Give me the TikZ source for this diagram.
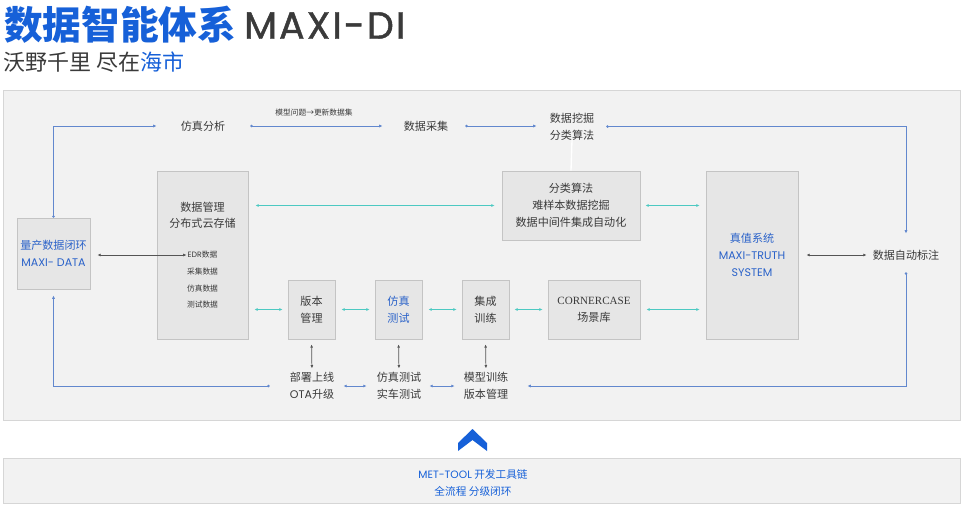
\documentclass[tikz,border=0pt]{standalone}
\usepackage{fontspec}
\setmainfont{Noto Sans CJK SC}
\newfontfamily\pop{Poppins}
\newfontfamily\popt{Poppins}[LetterSpace=5.5, FakeBold=1.2]
\newfontfamily\serifcc{Liberation Serif}
\usetikzlibrary{arrows.meta}
\definecolor{tblue}{HTML}{1660D8}
\definecolor{bxblue}{HTML}{2A62C9}
\definecolor{lblue}{HTML}{6288CE}
\definecolor{lcyan}{HTML}{4CC9C2}
\definecolor{panel}{HTML}{F2F2F2}
\definecolor{panelb}{HTML}{D6D6D6}
\definecolor{boxf}{HTML}{E6E6E6}
\definecolor{boxb}{HTML}{C4C4C4}
\definecolor{txt}{HTML}{3A3A3A}
\definecolor{lgray}{HTML}{555555}
\tikzset{
  box/.style={draw=boxb, fill=boxf, line width=0.6pt, inner sep=0pt, align=center, text=txt,
    font=\fontsize{8.3}{12.75}\selectfont},
  lab/.style={inner sep=0pt, align=center, text=txt, font=\fontsize{8.3}{12.4}\selectfont},
  small/.style={inner sep=0pt, text=txt, font=\fontsize{5.8}{7}\selectfont},
  tipone/.style={{Circle[length=1.8pt]}-{Latex[length=2.6pt,width=2.4pt]}},
  tiptwo/.style={{Latex[length=2.4pt,width=2.2pt]}-{Latex[length=2.4pt,width=2.2pt]}},
  bline/.style={draw=lblue, line width=0.7pt},
  cline/.style={draw=lcyan, line width=0.7pt, tiptwo},
  gline/.style={draw=lgray, line width=0.55pt, tiptwo},
}
\begin{document}
\begin{tikzpicture}[x=0.75pt,y=-0.75pt]
\useasboundingbox (0,0) rectangle (964,514);
% title
\node[anchor=west, inner sep=0pt, text=tblue, font=\fontsize{29}{30}\selectfont\bfseries] (t1) at (4,25) {数据智能体系};
\node[anchor=west, inner sep=0pt, text=txt, font=\fontsize{28.5}{30}\selectfont\popt] (t2) at (244,25.5) {MAXI-DI};
\node[anchor=west, inner sep=0pt, text=txt, font=\fontsize{16.5}{18}\selectfont] (t3) at (3,62.5) {沃野千里 尽在\textcolor{tblue}{海市}};
% panels
\path[fill=panel, draw=panelb, line width=0.6pt] (3,90) rectangle (960,420);
\path[fill=panel, draw=panelb, line width=0.6pt] (3,458) rectangle (960,503);
\fill[tblue] (458,443) -- (472.5,429) -- (487,443) -- (487,451) -- (472.5,440) -- (458,451) -- cycle;
\node[inner sep=0pt, text=tblue, font=\fontsize{8}{10}\selectfont] (mt1) at (473,474) {{\pop MET-TOOL} 开发工具链};
\node[inner sep=0pt, text=tblue, font=\fontsize{8}{10}\selectfont] (mt2) at (473,491) {全流程 分级闭环};
% boxes
\node[box, minimum width=54.75pt, minimum height=53.25pt, text=bxblue] (q) at (53.5,253.5) {量产数据闭环\\{\pop MAXI- DATA}};
\node[box, minimum width=68.25pt, minimum height=126pt] (dm) at (202.5,255) {};
\node[lab] (dmt) at (202.5,215.5) {数据管理\\分布式云存储};
\node[small] (edr) at (202.5,255) {{\pop EDR}数据};
\node[small] (cjd) at (202.5,272) {采集数据};
\node[small] (fzd) at (202.5,289) {仿真数据};
\node[small] (csd) at (202.5,305) {测试数据};
\node[box, minimum width=103.5pt, minimum height=51.75pt] (fl) at (571,205.5) {分类算法\\难样本数据挖掘\\数据中间件集成自动化};
\node[box, minimum width=69pt, minimum height=126pt, text=bxblue] (zt) at (752,255) {真值系统\\{\pop MAXI-TRUTH}\\{\pop SYSTEM}};
\node[box, minimum width=35.25pt, minimum height=44.25pt] (bb) at (311.5,309.5) {版本\\管理};
\node[box, minimum width=35.25pt, minimum height=44.25pt, text=bxblue] (ftb) at (398.5,309.5) {仿真\\测试};
\node[box, minimum width=35.25pt, minimum height=44.25pt] (jc) at (485.5,309.5) {集成\\训练};
\node[box, minimum width=69pt, minimum height=44.25pt] (cc) at (594,309.5) {{\serifcc CORNERCASE}\\场景库};
% free labels
\node[lab] (fz) at (203,126) {仿真分析};
\node[small] (lbl) at (314,113) {模型问题→更新数据集};
\node[lab] (cj) at (426,126) {数据采集};
\node[lab] (wj) at (572,126.5) {数据挖掘\\分类算法};
\node[lab] (bz) at (906,255) {数据自动标注};
\node[lab] (bs) at (312,386) {部署上线\\{\pop OTA}升级};
\node[lab] (ft) at (399,386) {仿真测试\\实车测试};
\node[lab] (mx) at (486,386) {模型训练\\版本管理};
% faint link
\draw[white, line width=1pt] (wj.south) -- (fl.north);
% blue loop
\draw[bline, tipone, shorten >=18pt] (q.north) |- (fz.west);
\draw[bline, tipone, shorten <=18.75pt, shorten >=15.75pt] (fz.east) -- (cj.west);
\draw[bline, tipone, shorten <=12.75pt, shorten >=9.75pt] (cj.east) -- (cj.east -| wj.west);
\draw[bline, tipone, shorten <=9pt, shorten >=12pt] (wj.east) -| (bz.north);
\draw[bline, tipone, shorten <=9pt, shorten >=14.25pt] (bz.south) |- (mx.east);
\draw[bline, tiptwo, shorten <=6.75pt, shorten >=6pt] (mx.west) -- (ft.east);
\draw[bline, tiptwo, shorten <=7.5pt, shorten >=6.75pt] (ft.west) -- (bs.east);
\draw[bline, tipone, shorten <=15pt, shorten >=4.5pt] (bs.west) -| (q.south);
% cyan links
\draw[cline, shorten <=5.25pt, shorten >=5.25pt] (dm.east |- fl.west) -- (fl.west);
\draw[cline, shorten <=3.75pt, shorten >=4.5pt] (fl.east) -- (fl.east -| zt.west);
\draw[cline, shorten <=4.5pt, shorten >=3.75pt] (dm.east |- bb.west) -- (bb.west);
\draw[cline, shorten <=4.5pt, shorten >=3.75pt] (bb.east) -- (ftb.west);
\draw[cline, shorten <=4.5pt, shorten >=3.75pt] (ftb.east) -- (jc.west);
\draw[cline, shorten <=3.75pt, shorten >=3.75pt] (jc.east) -- (cc.west);
\draw[cline, shorten <=4.5pt, shorten >=4.5pt] (cc.east) -- (cc.east -| zt.west);
% gray links
\draw[gline, shorten <=5.25pt, shorten >=0.75pt] (q.east |- edr.west) -- (edr.west);
\draw[gline, shorten <=6pt, shorten >=4.5pt] (zt.east) -- (bz.west);
\draw[gline, shorten <=3.75pt, shorten >=3pt] (bb.south) -- (bs.north);
\draw[gline, shorten <=3.75pt, shorten >=3pt] (ftb.south) -- (ft.north);
\draw[gline, shorten <=3.75pt, shorten >=3pt] (jc.south) -- (mx.north);
\end{tikzpicture}
\end{document}
